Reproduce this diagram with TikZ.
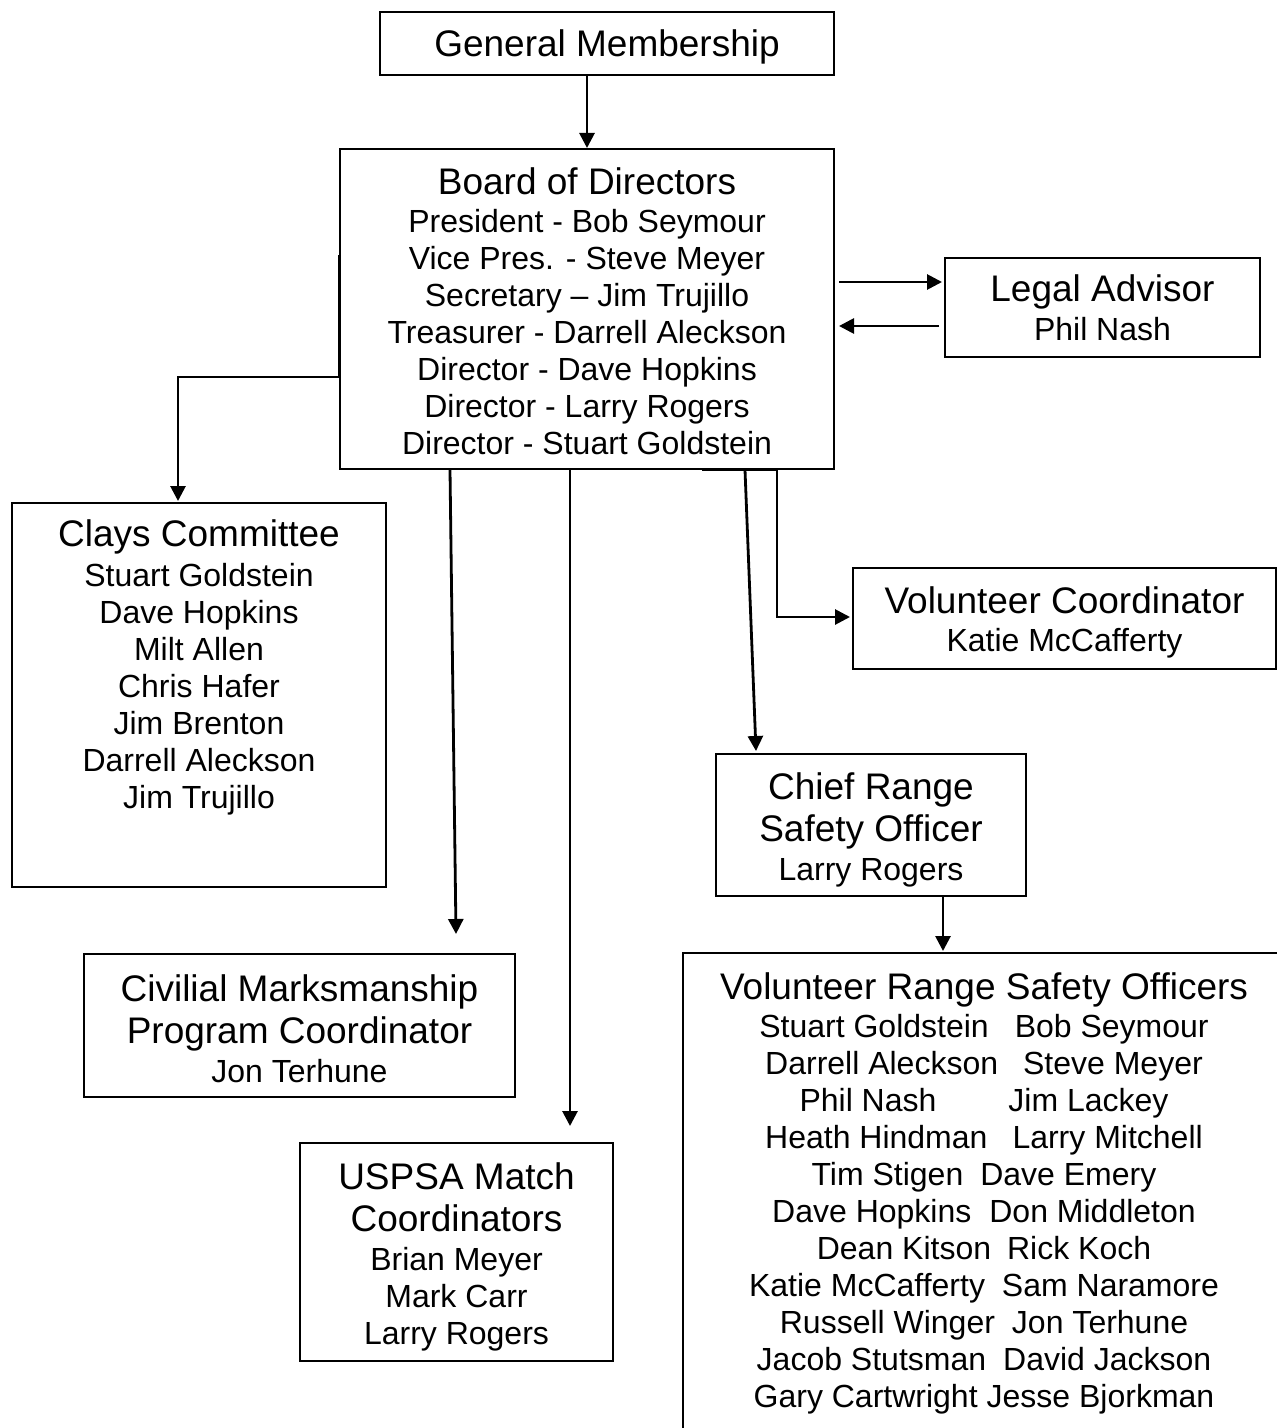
\documentclass[tikz,border=0pt]{standalone}
\usepackage{fontspec}
\setmainfont{Liberation Sans}
\usetikzlibrary{arrows.meta}
\newcommand\ttlfont{\fontsize{18.5}{21}\selectfont}
\newcommand\nmfont{\fontsize{16}{18.5}\selectfont}
\newcommand\toppad[1]{\rule{0pt}{#1}}
\tikzset{
  box/.style={draw, line width=1pt, align=center, inner sep=0pt, font=\nmfont},
  arr/.style={-{Triangle[length=7.5pt,width=7.5pt]}, line width=1.4pt}
}
\begin{document}
\begin{tikzpicture}[x=0.5pt,y=-0.5pt]
\useasboundingbox (0,0) rectangle (1277,1428);
\node[box, minimum width=227pt, minimum height=31.5pt] (gm) at (607,43.5) {\ttlfont\toppad{16.5pt}General Membership};
\node[box, minimum width=247pt, minimum height=160pt] (board) at (587,309)
  {{\ttlfont\toppad{15.5pt}Board of Directors}\\[0.5pt]
   President - Bob Seymour\\ Vice Pres. - Steve Meyer\\ Secretary – Jim Trujillo\\
   Treasurer - Darrell Aleckson\\ Director - Dave Hopkins\\ Director - Larry Rogers\\
   Director - Stuart Goldstein};
\node[box, minimum width=157.5pt, minimum height=49.5pt] (legal) at (1102.5,307.5)
  {{\ttlfont Legal Advisor}\\[1pt] Phil Nash};
\node[box, minimum width=187pt, minimum height=192pt] (clays) at (199,695)
  {{\ttlfont Clays Committee}\\[1.5pt]
   Stuart Goldstein\\ Dave Hopkins\\ Milt Allen\\ Chris Hafer\\ Jim Brenton\\
   Darrell Aleckson\\ Jim Trujillo\rule[-31pt]{0pt}{31pt}};
\node[box, minimum width=211.5pt, minimum height=50.5pt] (volco) at (1064.5,618.5)
  {{\ttlfont\toppad{17.5pt}Volunteer Coordinator}\\[0.5pt] Katie McCafferty};
\node[box, minimum width=155pt, minimum height=71pt] (crso) at (871,825)
  {{\ttlfont\toppad{18.5pt}Chief Range}\\[2.5pt]{\ttlfont Safety Officer}\\[1pt] Larry Rogers};
\node[box, minimum width=215.5pt, minimum height=71.5pt] (civ) at (299.5,1025.5)
  {{\ttlfont\toppad{16.5pt}Civilial Marksmanship}\\[2.5pt]{\ttlfont Program Coordinator}\\[1pt] Jon Terhune};
\node[box, minimum width=156.5pt, minimum height=109pt] (uspsa) at (456.5,1252)
  {{\ttlfont\toppad{18.5pt}USPSA Match}\\[2.5pt]{\ttlfont Coordinators}\\[1pt]
   Brian Meyer\\ Mark Carr\\ Larry Rogers};
\node[box, minimum width=301pt, minimum height=246pt] (vrso) at (984,1199)
  {{\ttlfont Volunteer Range Safety Officers}\\[0.5pt]
   Stuart Goldstein\hspace{13pt}Bob Seymour\\
   Darrell Aleckson\hspace{12.5pt}Steve Meyer\\
   Phil Nash\hspace{36pt}Jim Lackey\\
   Heath Hindman\hspace{12.5pt}Larry Mitchell\\
   Tim Stigen\hspace{8.5pt}Dave Emery\\
   Dave Hopkins\hspace{9pt}Don Middleton\\
   Dean Kitson\hspace{8pt}Rick Koch\\
   Katie McCafferty\hspace{8.5pt}Sam Naramore\\
   Russell Winger\hspace{8.5pt}Jon Terhune\\
   Jacob Stutsman\hspace{8.5pt}David Jackson\\
   Gary Cartwright\hspace{4.5pt}Jesse Bjorkman\rule[-8.5pt]{0pt}{8.5pt}};
% connectors
\draw[arr] (gm.south -| board.north) -- (board.north);
\draw[arr] ([shift={(4,-27)}]board.east) -- ([shift={(-2,-25.5)}]legal.west);
\draw[arr] ([shift={(-5,18.5)}]legal.west) -- ([shift={(4,17)}]board.east);
\draw[arr] ([shift={(0,-54)}]board.west) -- ([shift={(0,68)}]board.west) -| ([shift={(-21,-1)}]clays.north);
\draw[arr] ([shift={(-137,0)}]board.south) -- ([shift={(156.5,-19)}]civ.north);
\draw[arr] ([shift={(-17,0)}]board.south) -- ([shift={(113.5,-16)}]uspsa.north);
\draw[arr] ([shift={(158,0)}]board.south) -- ([shift={(-115,-2)}]crso.north);
\draw[arr] ([shift={(115,0)}]board.south) -- ([shift={(190,0)}]board.south) |- ([shift={(-2,-1.5)}]volco.west);
\draw[arr] ([shift={(72,0)}]crso.south) -- ([shift={(-41,-1)}]vrso.north);
\end{tikzpicture}
\end{document}
